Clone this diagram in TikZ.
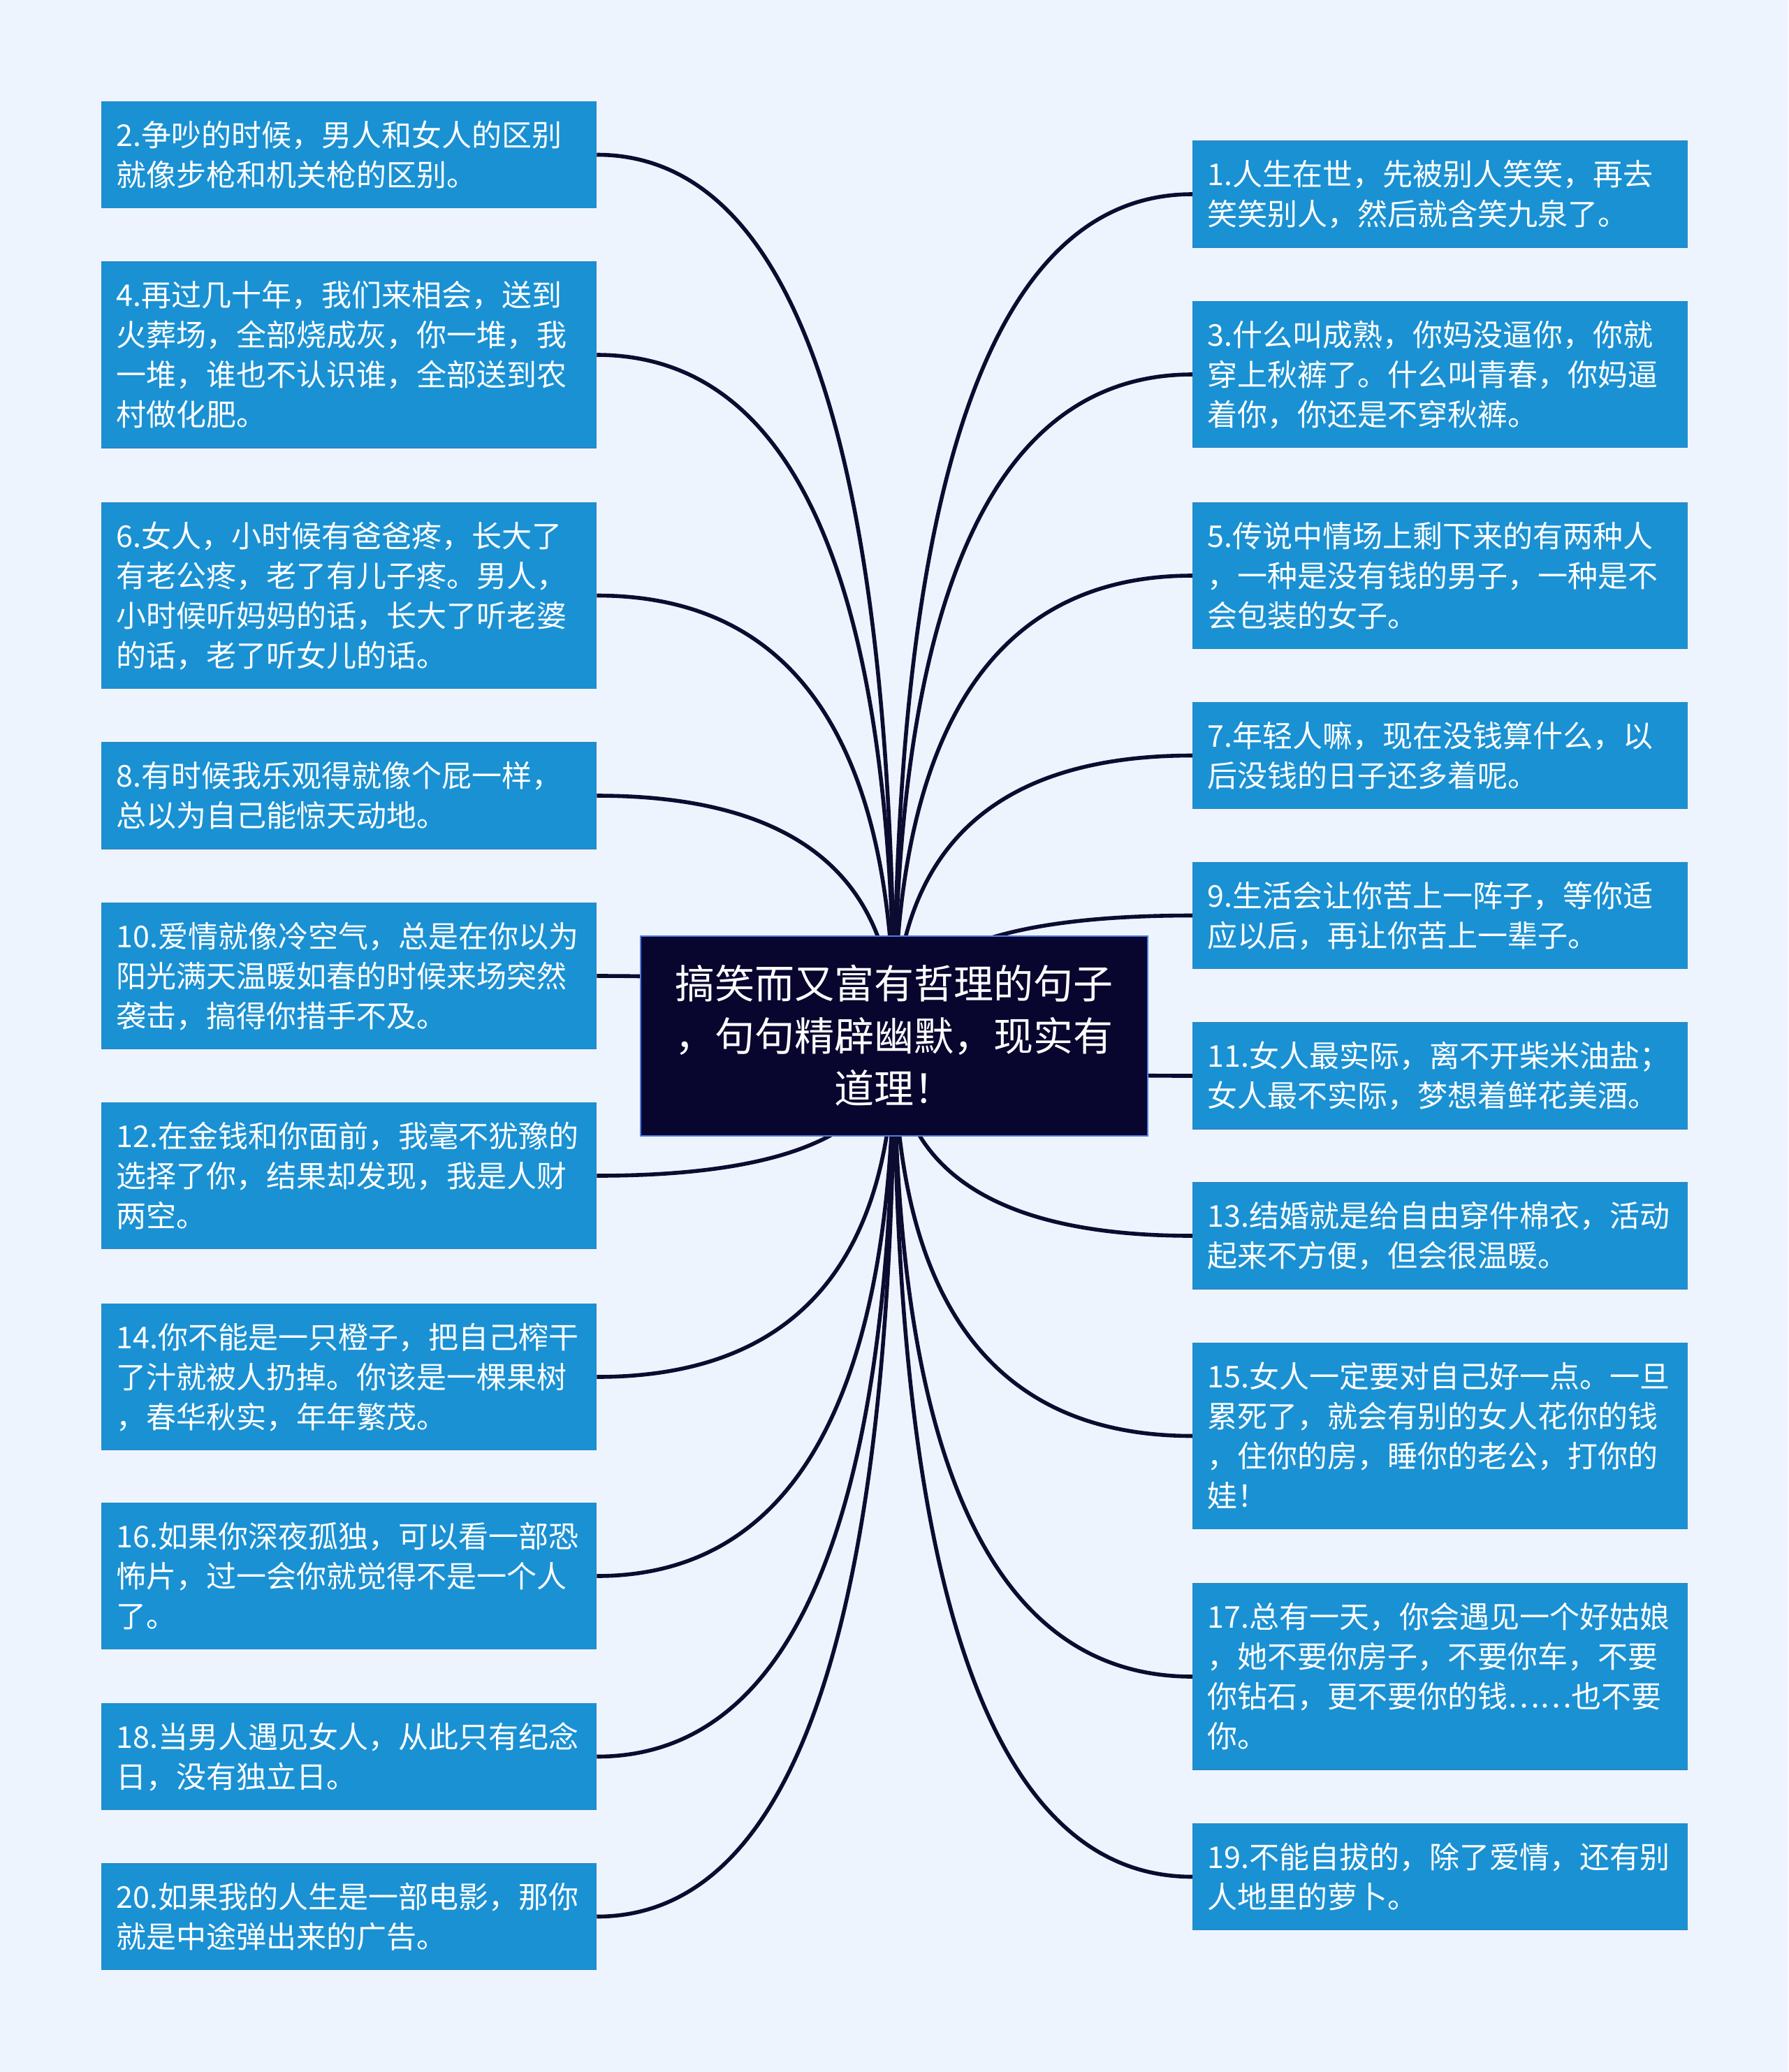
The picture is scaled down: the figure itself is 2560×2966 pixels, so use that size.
\documentclass[tikz,border=0pt]{standalone}
\usepackage{fontspec}
\setmainfont{Noto Sans CJK SC}
\usetikzlibrary{calc,backgrounds}
\definecolor{bg}{HTML}{EEF4FE}
\definecolor{leaf}{HTML}{1A91D3}
\definecolor{leafedge}{HTML}{2B87C4}
\definecolor{root}{HTML}{08052E}
\definecolor{rootedge}{HTML}{4A80E0}
\definecolor{wirecol}{HTML}{0C0B30}
\newcommand{\ls}{\rule[-12.2pt]{0pt}{57pt}}
\newcommand{\rs}{\rule[-15.8pt]{0pt}{75pt}}
\tikzset{
  leafbox/.style={rectangle, fill=leaf, draw=leafedge, line width=1.5pt, text=white,
    text width=666pt, inner xsep=21pt, inner ysep=19pt, align=left,
    font=\fontsize{43}{57}\selectfont},
  rootbox/.style={rectangle, fill=root, draw=rootedge, line width=2.5pt, text=white,
    minimum width=726pt, minimum height=286pt, inner sep=0pt, align=center,
    font=\fontsize{57}{75}\selectfont},
  wire/.style={draw=wirecol, line width=5.6pt}
}
\begin{document}
\begin{tikzpicture}[x=1pt,y=-1pt]
\useasboundingbox (0,0) rectangle (2560,2966);

\node[rootbox] (c) at (1280,1483) {\rs 搞笑而又富有哲理的句子\\\rs ，句句精辟幽默，现实有\\\rs 道理！};

% left column
\node[leafbox] (L2) at (499.5,221.5) {\ls 2.争吵的时候，男人和女人的区别\\\ls 就像步枪和机关枪的区别。};
\node[leafbox] (L4) at (499.5,508) {\ls 4.再过几十年，我们来相会，送到\\\ls 火葬场，全部烧成灰，你一堆，我\\\ls 一堆，谁也不认识谁，全部送到农\\\ls 村做化肥。};
\node[leafbox] (L6) at (499.5,852.5) {\ls 6.女人，小时候有爸爸疼，长大了\\\ls 有老公疼，老了有儿子疼。男人，\\\ls 小时候听妈妈的话，长大了听老婆\\\ls 的话，老了听女儿的话。};
\node[leafbox] (L8) at (499.5,1139) {\ls 8.有时候我乐观得就像个屁一样，\\\ls 总以为自己能惊天动地。};
\node[leafbox] (L10) at (499.5,1397) {\ls 10.爱情就像冷空气，总是在你以为\\\ls 阳光满天温暖如春的时候来场突然\\\ls 袭击，搞得你措手不及。};
\node[leafbox] (L12) at (499.5,1683) {\ls 12.在金钱和你面前，我毫不犹豫的\\\ls 选择了你，结果却发现，我是人财\\\ls 两空。};
\node[leafbox] (L14) at (499.5,1971) {\ls 14.你不能是一只橙子，把自己榨干\\\ls 了汁就被人扔掉。你该是一棵果树\\\ls ，春华秋实，年年繁茂。};
\node[leafbox] (L16) at (499.5,2256) {\ls 16.如果你深夜孤独，可以看一部恐\\\ls 怖片，过一会你就觉得不是一个人\\\ls 了。};
\node[leafbox] (L18) at (499.5,2514.5) {\ls 18.当男人遇见女人，从此只有纪念\\\ls 日，没有独立日。};
\node[leafbox] (L20) at (499.5,2743.5) {\ls 20.如果我的人生是一部电影，那你\\\ls 就是中途弹出来的广告。};

% right column
\node[leafbox] (R1) at (2061.5,278) {\ls 1.人生在世，先被别人笑笑，再去\\\ls 笑笑别人，然后就含笑九泉了。};
\node[leafbox] (R3) at (2061.5,536) {\ls 3.什么叫成熟，你妈没逼你，你就\\\ls 穿上秋裤了。什么叫青春，你妈逼\\\ls 着你，你还是不穿秋裤。};
\node[leafbox] (R5) at (2061.5,824) {\ls 5.传说中情场上剩下来的有两种人\\\ls ，一种是没有钱的男子，一种是不\\\ls 会包装的女子。};
\node[leafbox] (R7) at (2061.5,1081.5) {\ls 7.年轻人嘛，现在没钱算什么，以\\\ls 后没钱的日子还多着呢。};
\node[leafbox] (R9) at (2061.5,1310.5) {\ls 9.生活会让你苦上一阵子，等你适\\\ls 应以后，再让你苦上一辈子。};
\node[leafbox] (R11) at (2061.5,1540) {\ls 11.女人最实际，离不开柴米油盐；\\\ls 女人最不实际，梦想着鲜花美酒。};
\node[leafbox] (R13) at (2061.5,1769) {\ls 13.结婚就是给自由穿件棉衣，活动\\\ls 起来不方便，但会很温暖。};
\node[leafbox] (R15) at (2061.5,2055.5) {\ls 15.女人一定要对自己好一点。一旦\\\ls 累死了，就会有别的女人花你的钱\\\ls ，住你的房，睡你的老公，打你的\\\ls 娃！};
\node[leafbox] (R17) at (2061.5,2400) {\ls 17.总有一天，你会遇见一个好姑娘\\\ls ，她不要你房子，不要你车，不要\\\ls 你钻石，更不要你的钱……也不要\\\ls 你。};
\node[leafbox] (R19) at (2061.5,2686.5) {\ls 19.不能自拔的，除了爱情，还有别\\\ls 人地里的萝卜。};

\begin{pgfonlayer}{background}
\fill[bg] (0,0) rectangle (2560,2966);
\foreach \n in {L2,L4,L6,L8,L10,L12,L14,L16,L18,L20}{
  \draw[wire] (\n.east) .. controls ($(\n.east)!2/3!(c.center |- \n.east)$) and ($(c.center)!2/3!(c.center |- \n.east)$) .. (c.center);
}
\foreach \n in {R1,R3,R5,R7,R9,R11,R13,R15,R17,R19}{
  \draw[wire] (\n.west) .. controls ($(\n.west)!2/3!(c.center |- \n.west)$) and ($(c.center)!2/3!(c.center |- \n.west)$) .. (c.center);
}
\end{pgfonlayer}
\end{tikzpicture}
\end{document}
